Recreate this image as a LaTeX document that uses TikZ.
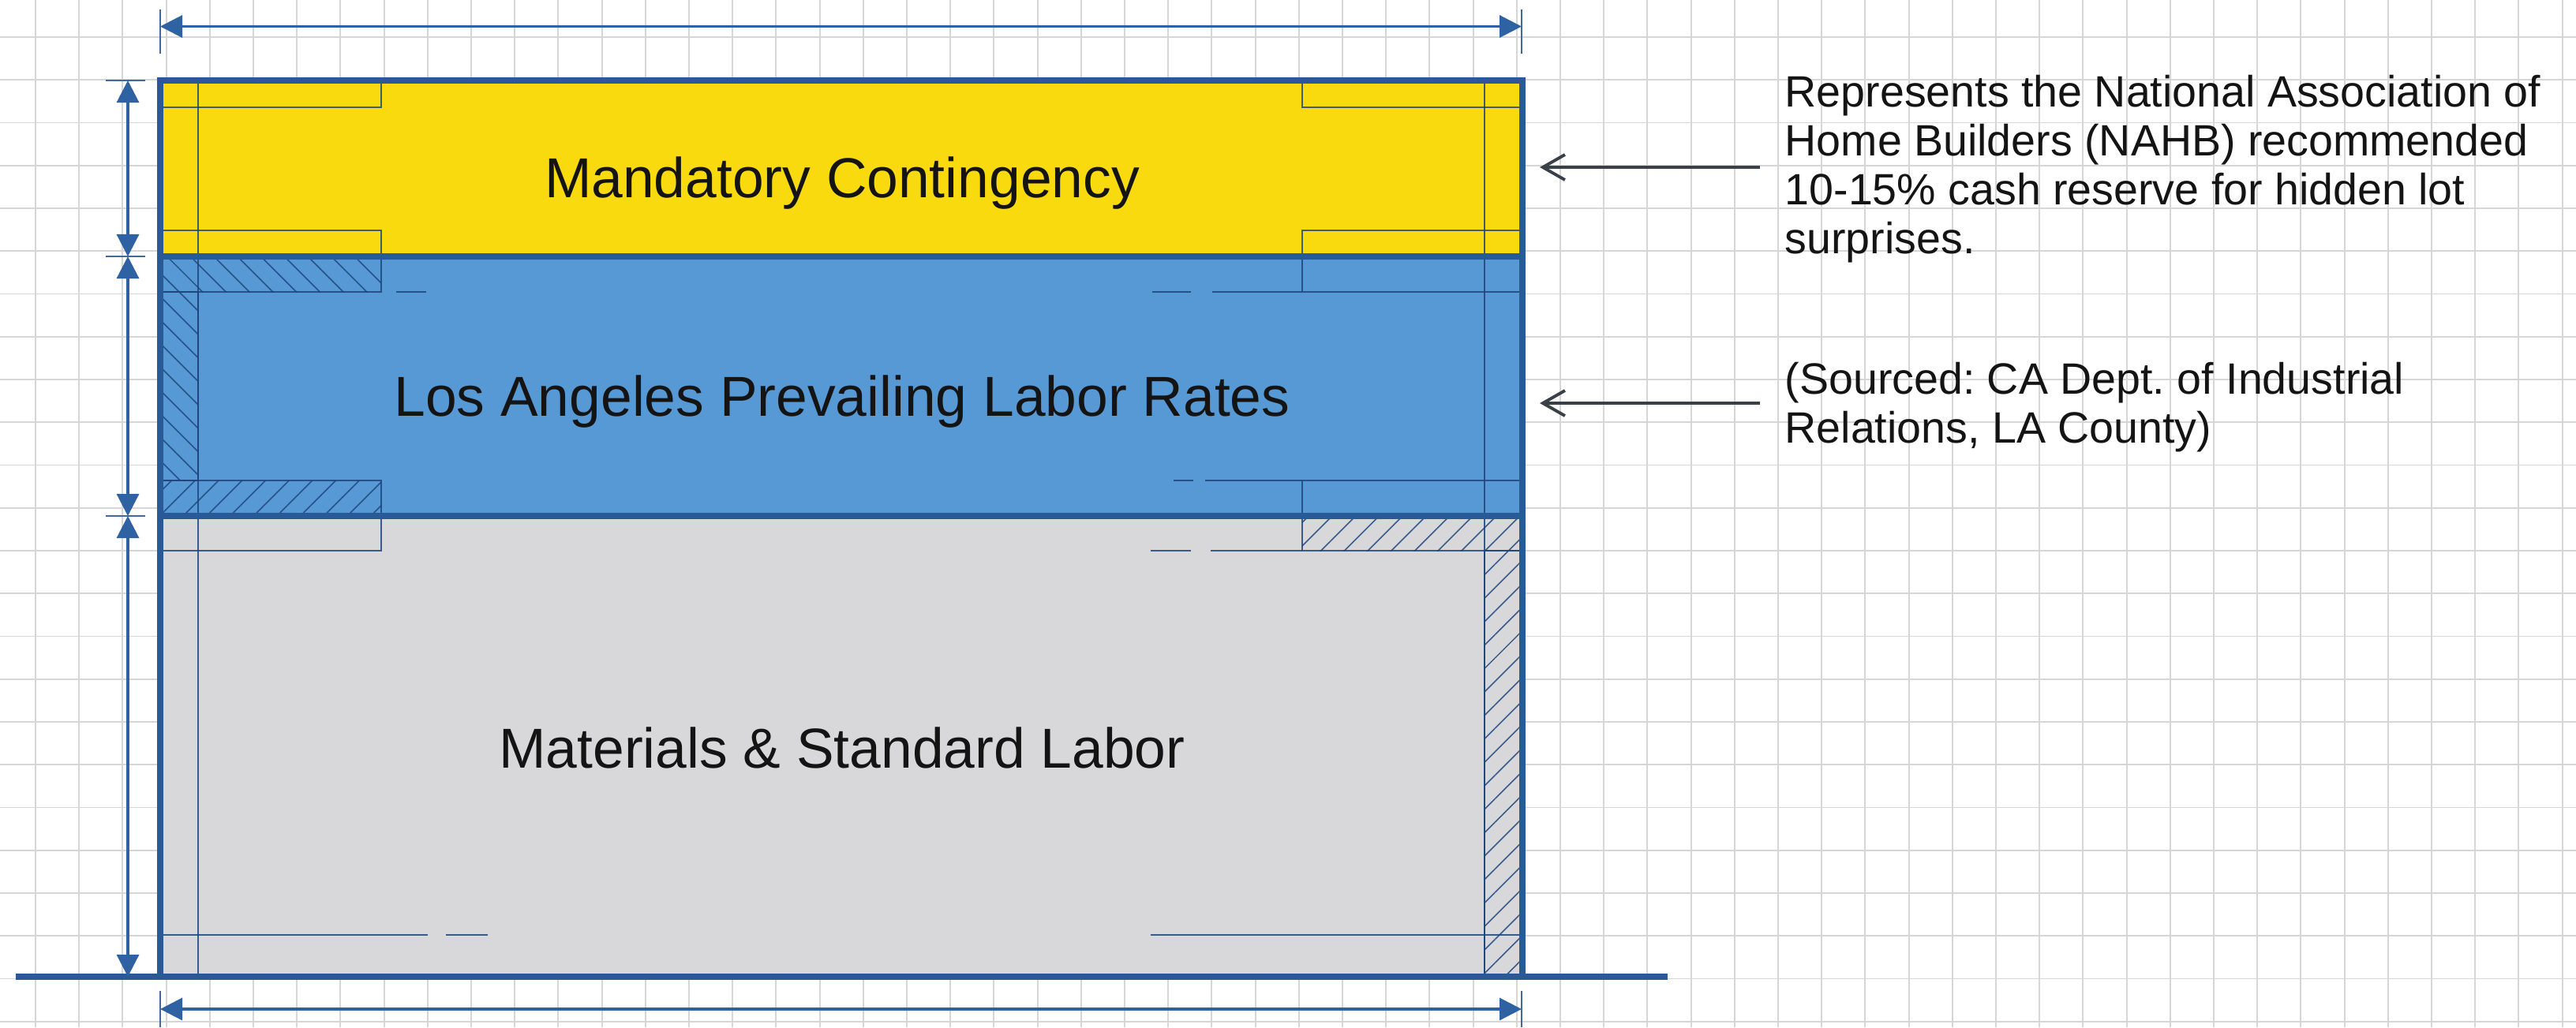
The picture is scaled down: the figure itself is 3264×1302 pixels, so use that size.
\documentclass[tikz,border=0pt]{standalone}
\usepackage{fontspec}
\setmainfont{Liberation Sans}
\usetikzlibrary{arrows.meta,patterns.meta}

\definecolor{gridgray}{RGB}{214,214,214}
\definecolor{contyellow}{RGB}{248,218,14}
\definecolor{laborblue}{RGB}{87,153,212}
\definecolor{matgray}{RGB}{216,216,219}
\definecolor{framedark}{RGB}{42,89,152}
\definecolor{detailnavy}{RGB}{30,70,125}
\definecolor{dimblue}{RGB}{46,98,162}
\definecolor{notegray}{RGB}{58,64,72}

\begin{document}
\begin{tikzpicture}[x=0.01cm,y=-0.01cm]
  \tikzset{gridline/.style={draw=gridgray,line width=0.55pt},
    frame/.style={draw=framedark,line width=2.3pt},
    detail/.style={draw=detailnavy,draw opacity=0.85,line width=0.75pt},
    hatchNE/.style={detail,pattern={Lines[angle=45,distance=2.1mm,line width=0.45pt]},
      pattern color=detailnavy},
    hatchNW/.style={detail,pattern={Lines[angle=-45,distance=2.1mm,line width=0.45pt]},
      pattern color=detailnavy},
    dimline/.style={draw=dimblue,line width=0.9pt,
      {Triangle[length=2.8mm,width=2.8mm]}-{Triangle[length=2.8mm,width=2.8mm]}},
    dimtick/.style={draw=dimblue!75!gray,line width=0.8pt},
    bandlabel/.style={font=\fontsize{20.3}{24}\selectfont,text=black!92,inner sep=0pt,anchor=base},
    note/.style={font={\fontsize{15.8}{17.6}\selectfont\frenchspacing},text=black!92,align=left,
      inner sep=0pt,anchor=north west},
    notearrow/.style={draw=notegray,line width=1.1pt,-{Straight Barb[length=2.8mm,width=3.2mm]}}}

  %% Paper and the squared grid behind everything
  \fill[white] (0,0) rectangle (3264,1302);
  \useasboundingbox (0,0) rectangle (3264,1302);
  \begin{scope}
    \clip (0,0) rectangle (3264,1302);
    \foreach \i in {0,...,58}
      \draw[gridline] ({45+55.2*\i},0) -- ++(0,1302);
    \foreach \j in {0,...,23}
      \draw[gridline] (0,{47+54.25*\j}) -- ++(3264,0);
  \end{scope}

  %% The three cost bands
  \fill[contyellow] (203,102) rectangle (1929,325);
  \fill[laborblue]  (203,325) rectangle (1929,654);
  \fill[matgray]    (203,654) rectangle (1929,1238);

  %% Drafting details: margins, notches, hatched strips and dashes
  \draw[detail] (251,102) -- (251,1238);
  \draw[detail] (1881,102) -- (1881,1238);
  \draw[detail] (203,136) -| (483,102);
  \draw[detail] (203,292) -| (483,325);
  \draw[detail] (1929,136) -| (1650,102);
  \draw[detail] (1929,292) -| (1650,325);

  \draw[hatchNW] (203,325) rectangle (483,370);
  \draw[hatchNW] (203,370) rectangle (251,609);
  \draw[hatchNE] (203,609) rectangle (483,654);
  \draw[detail] (502,370) -- (540,370);
  \draw[detail] (1650,325) |- (1929,370);
  \draw[detail] (1460,370) -- (1509,370) (1536,370) -- (1650,370);
  \draw[detail] (1650,654) |- (1929,609);
  \draw[detail] (1487,609) -- (1512,609) (1527,609) -- (1650,609);

  \draw[detail] (203,698) -| (483,654);
  \draw[hatchNE] (1650,654) rectangle (1929,698);
  \draw[detail] (1458,698) -- (1509,698) (1534,698) -- (1650,698);
  \draw[hatchNE] (1881,698) rectangle (1929,1238);
  \draw[detail] (203,1185) -- (542,1185) (565,1185) -- (618,1185);
  \draw[detail] (1458,1185) -- (1929,1185);

  %% Outline of the stack and the ground line
  \draw[frame] (203,102) rectangle (1929,1238);
  \draw[frame] (203,325) -- (1929,325) (203,654) -- (1929,654);
  \draw[frame] (20,1238) -- (2113,1238);

  %% Dimension lines
  \coordinate (dimL0) at (162,102);
  \coordinate (dimL1) at (162,325);
  \coordinate (dimL2) at (162,654);
  \coordinate (dimL3) at (162,1238);
  \coordinate (dimT0) at (203,33.5);
  \coordinate (dimT1) at (1928,33.5);
  \coordinate (dimB0) at (203,1279);
  \coordinate (dimB1) at (1928,1279);
  \foreach \a/\b in {dimL0/dimL1,dimL1/dimL2,dimL2/dimL3,dimT0/dimT1,dimB0/dimB1}
    \draw[dimline] (\a) -- (\b);
  \foreach \y in {102,325,654}
    \draw[dimtick] (134,\y) -- (184,\y);
  \foreach \x in {203,1928} {
    \draw[dimtick] (\x,12) -- (\x,68);
    \draw[dimtick] (\x,1256) -- (\x,1302);
  }

  %% Band labels
  \node[bandlabel] (contingency) at (1067,250) {Mandatory Contingency};
  \node[bandlabel] (laborrates)  at (1067,527) {Los Angeles Prevailing Labor Rates};
  \node[bandlabel] (materials)   at (1067,973) {Materials \& Standard Labor};

  %% Side notes and their pointers
  \node[note] (nahbnote) at (2261,95) {Represents the National Association of\\
    Home Builders (NAHB) recommended\\ 10-15\% cash reserve for hidden lot\\ surprises.};
  \node[note] (sourcenote) at (2261,459) {(Sourced: CA Dept. of Industrial\\
    Relations, LA County)};
  \coordinate (nahbtail) at (2230,212);
  \coordinate (nahbtip)  at (1951,212);
  \coordinate (sourcetail) at (2230,511);
  \coordinate (sourcetip)  at (1951,511);
  \draw[notearrow] (nahbtail) -- (nahbtip);
  \draw[notearrow] (sourcetail) -- (sourcetip);

\end{tikzpicture}
\end{document}
